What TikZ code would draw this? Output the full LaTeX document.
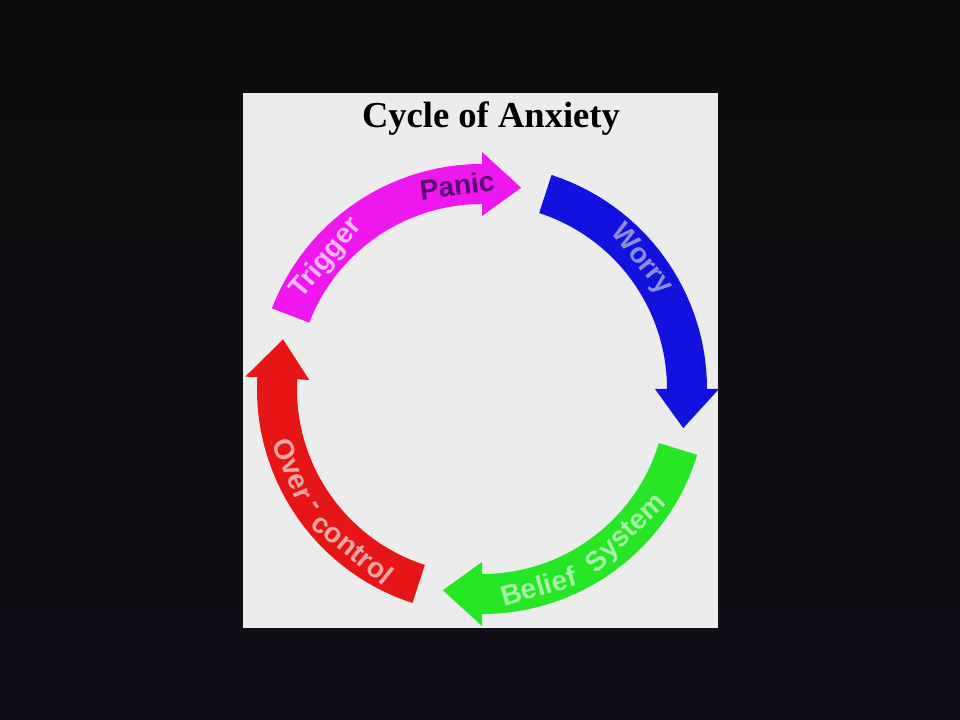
\documentclass[tikz,border=0pt]{standalone}
\usepackage{fontspec}
\setmainfont{Liberation Serif}
\setsansfont{Liberation Sans}
\usepackage{tikz}
\usetikzlibrary{calc}
\definecolor{backtop}{HTML}{0D0D0D}
\definecolor{backmid}{HTML}{222222}
\definecolor{backlow}{HTML}{100E17}
\definecolor{panel}{HTML}{ECECEC}
\definecolor{trig}{HTML}{EE18EE}
\definecolor{worry}{HTML}{1212DE}
\definecolor{belief}{HTML}{26E626}
\definecolor{ctrl}{HTML}{E61616}
\definecolor{trigtxt}{HTML}{F5B8F5}
\definecolor{panictxt}{HTML}{5A0A6E}
\definecolor{worrytxt}{HTML}{8C8CD8}
\definecolor{belieftxt}{HTML}{A8F0A8}
\definecolor{ctrltxt}{HTML}{F2A6A6}
\tikzset{lbl/.style={font=\sffamily\bfseries\fontsize{20}{24}\selectfont, inner sep=0pt}}

\begin{document}
\begin{tikzpicture}[x=0.025cm, y=0.025cm]
  \shade[top color=backtop, middle color=backmid, bottom color=backlow] (-482,389) rectangle (478,-331);
  \fill[panel] (-239,296) rectangle (236,-239);
  \node[font=\fontsize{26}{30}\selectfont\bfseries, anchor=base] (title) at (9,261) {Cycle of Anxiety};

  \foreach \col/\from/\tip in {trig/159/79, worry/72/-11, belief/-17/-101, ctrl/252/166}
    \fill[\col] (\from:225) arc[start angle=\from, end angle=\tip+11, radius=225]
      -- ({\tip+11}:237) -- (\tip:205) -- ({\tip+11}:173) -- ({\tip+11}:185)
      arc[start angle=\tip+11, end angle=\from, radius=185] -- cycle;

  \node[lbl, text=trigtxt, rotate=50] (trigger) at (140:203) {Trigger};
  \node[lbl, text=panictxt, rotate=7] (panic) at (97:205) {Panic};
  \node[lbl, text=worrytxt, rotate=-51] (worry) at (39:205) {Worry};
  \node[lbl, text=belieftxt, rotate=16] (belief) at (-74:205) {Belief};
  \node[lbl, text=belieftxt, rotate=45] (system) at (-45:205) {System};
  \node[lbl, text=ctrltxt, rotate=-67] (over) at (203:205) {Over};
  \node[lbl, text=ctrltxt, rotate=-55] (hyph) at (215:205) {-};
  \node[lbl, text=ctrltxt, rotate=-39] (control) at (231:205) {control};
\end{tikzpicture}
\end{document}
